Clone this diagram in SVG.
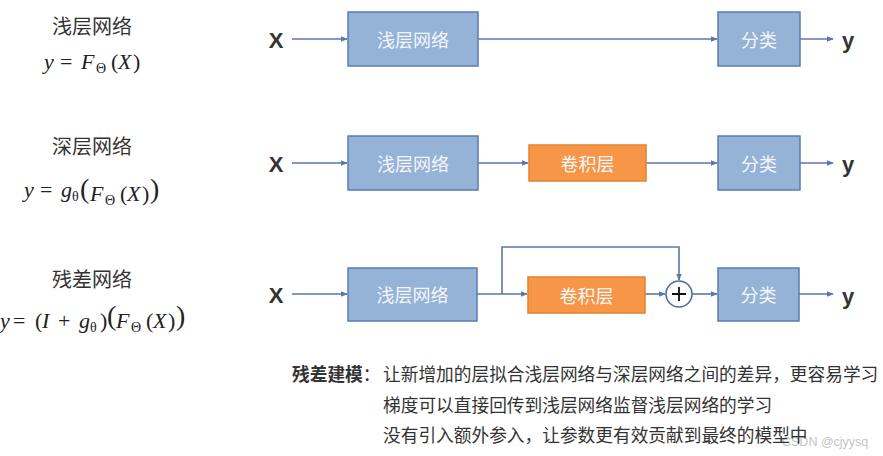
<svg xmlns="http://www.w3.org/2000/svg" width="883" height="456" viewBox="0 0 883 456">
<defs>
<style>
.blue{fill:#95B3D7;stroke:#5A7DB0;stroke-width:1.5}
.orange{fill:#F79646;stroke:#E0822E;stroke-width:1.5}
.bt{font-family:"Noto Sans CJK SC","Noto Sans",sans-serif;font-size:18px;fill:#F4F6FA;text-anchor:middle;dominant-baseline:central}
.io{font-family:"Liberation Sans",Arial,sans-serif;font-weight:bold;font-size:22px;fill:#333;text-anchor:middle;dominant-baseline:central}
.ttl{font-family:"Noto Sans CJK SC",sans-serif;font-size:20px;fill:#333;text-anchor:middle}
.f{font-family:"Liberation Serif",serif;font-style:italic;font-size:22px;fill:#222}
.sub{font-style:normal;font-size:14px}
.up{font-style:normal}
.big{font-style:normal;font-size:28px}
.conn{stroke:#5A77AC;stroke-width:1.6;fill:none}
.note{font-family:"Noto Sans CJK SC",sans-serif;font-size:17.7px;fill:#333}
</style>
<marker id="ah" viewBox="0 0 10 10" refX="9" refY="5" markerWidth="7" markerHeight="7" orient="auto" markerUnits="userSpaceOnUse">
<path d="M0,1 L10,5 L0,9 z" fill="#5A77AC"/>
</marker>
</defs>
<rect width="883" height="456" fill="#fff"/>

<!-- left labels -->
<g id="label-shallow">
<text class="ttl" x="92" y="34">浅层网络</text>
<text class="f" y="69"><tspan x="44">y</tspan><tspan class="up" x="60">=</tspan><tspan x="81">F</tspan><tspan class="sub" x="96" dy="4">Θ</tspan><tspan class="up" x="111" dy="-4">(</tspan><tspan x="118">X</tspan><tspan class="up" x="133">)</tspan></text>
</g>
<g id="label-deep">
<text class="ttl" x="92" y="154">深层网络</text>
<text class="f" y="197"><tspan x="24">y</tspan><tspan class="up" x="40">=</tspan><tspan x="61">g</tspan><tspan class="sub" x="72" dy="4">θ</tspan><tspan class="big" x="80" dy="-3">(</tspan><tspan x="90" dy="3">F</tspan><tspan class="sub" x="105" dy="4">Θ</tspan><tspan class="up" x="120" dy="-4">(</tspan><tspan x="127">X</tspan><tspan class="up" x="142">)</tspan><tspan class="big" x="150" dy="-3">)</tspan></text>
</g>
<g id="label-residual">
<text class="ttl" x="92" y="287">残差网络</text>
<text class="f" y="328"><tspan x="0">y</tspan><tspan class="up" x="13">=</tspan><tspan class="up" x="35">(</tspan><tspan x="42">I</tspan><tspan class="up" x="58">+</tspan><tspan x="79">g</tspan><tspan class="sub" x="90" dy="4">θ</tspan><tspan class="up" x="100" dy="-4">)</tspan><tspan class="big" x="107" dy="-3">(</tspan><tspan x="116" dy="3">F</tspan><tspan class="sub" x="131" dy="4">Θ</tspan><tspan class="up" x="146" dy="-4">(</tspan><tspan x="153">X</tspan><tspan class="up" x="168">)</tspan><tspan class="big" x="176" dy="-3">)</tspan></text>
</g>

<!-- connectors -->
<g id="connectors">
<line class="conn" x1="292" y1="39" x2="347" y2="39" marker-end="url(#ah)"/>
<line class="conn" x1="478" y1="39" x2="717" y2="39" marker-end="url(#ah)"/>
<line class="conn" x1="800" y1="39" x2="833" y2="39" marker-end="url(#ah)"/>

<line class="conn" x1="292" y1="163" x2="347" y2="163" marker-end="url(#ah)"/>
<line class="conn" x1="478" y1="163" x2="528" y2="163" marker-end="url(#ah)"/>
<line class="conn" x1="646" y1="163" x2="717" y2="163" marker-end="url(#ah)"/>
<line class="conn" x1="800" y1="163" x2="833" y2="163" marker-end="url(#ah)"/>

<line class="conn" x1="292" y1="294" x2="347" y2="294" marker-end="url(#ah)"/>
<line class="conn" x1="477" y1="294" x2="527" y2="294" marker-end="url(#ah)"/>
<polyline class="conn" points="502,294 502,247 679,247 679,280" marker-end="url(#ah)"/>
<line class="conn" x1="645" y1="294" x2="665" y2="294" marker-end="url(#ah)"/>
<line class="conn" x1="692" y1="294" x2="717" y2="294" marker-end="url(#ah)"/>
<line class="conn" x1="799" y1="294" x2="833" y2="294" marker-end="url(#ah)"/>
</g>

<!-- row 1 -->
<g id="x1"><text class="io" x="276" y="40">X</text></g>
<g id="shallow1"><rect class="blue" x="348" y="12" width="130" height="54"/><text class="bt" x="413" y="39">浅层网络</text></g>
<g id="cls1"><rect class="blue" x="718" y="12" width="82" height="54"/><text class="bt" x="759" y="39">分类</text></g>
<g id="y1"><text class="io" x="848" y="40">y</text></g>

<!-- row 2 -->
<g id="x2"><text class="io" x="276" y="164">X</text></g>
<g id="shallow2"><rect class="blue" x="348" y="136" width="130" height="54"/><text class="bt" x="413" y="163">浅层网络</text></g>
<g id="conv2"><rect class="orange" x="529" y="145" width="117" height="36"/><text class="bt" x="587.5" y="163">卷积层</text></g>
<g id="cls2"><rect class="blue" x="718" y="136" width="82" height="54"/><text class="bt" x="759" y="163">分类</text></g>
<g id="y2"><text class="io" x="848" y="164">y</text></g>

<!-- row 3 -->
<g id="x3"><text class="io" x="276" y="295">X</text></g>
<g id="shallow3"><rect class="blue" x="348" y="268" width="129" height="53"/><text class="bt" x="412.5" y="294">浅层网络</text></g>
<g id="conv3"><rect class="orange" x="528" y="277" width="117" height="36"/><text class="bt" x="586.5" y="295">卷积层</text></g>
<g id="plus"><circle cx="679" cy="294" r="13" fill="#fff" stroke="#4F6FA0" stroke-width="1.6"/><path d="M672,294 H686 M679,287 V301" stroke="#111" stroke-width="1.8"/></g>
<g id="cls3"><rect class="blue" x="718" y="268" width="81" height="53"/><text class="bt" x="758.5" y="294">分类</text></g>
<g id="y3"><text class="io" x="848" y="296">y</text></g>

<!-- notes -->
<g id="notes">
<text x="782" y="446" font-family="Liberation Sans,Arial,sans-serif" font-size="12.5" fill="#C4C4C4">CSDN @cjyysq</text>
<text class="note" x="292" y="381"><tspan font-weight="bold">残差建模</tspan>：</text>
<text class="note" x="383" y="411" dy="-30">让新增加的层拟合浅层网络与深层网络之间的差异，更容易学习</text>
<text class="note" x="383" y="412">梯度可以直接回传到浅层网络监督浅层网络的学习</text>
<text class="note" x="383" y="442">没有引入额外参入，让参数更有效贡献到最终的模型中</text>
</g>
</svg>
